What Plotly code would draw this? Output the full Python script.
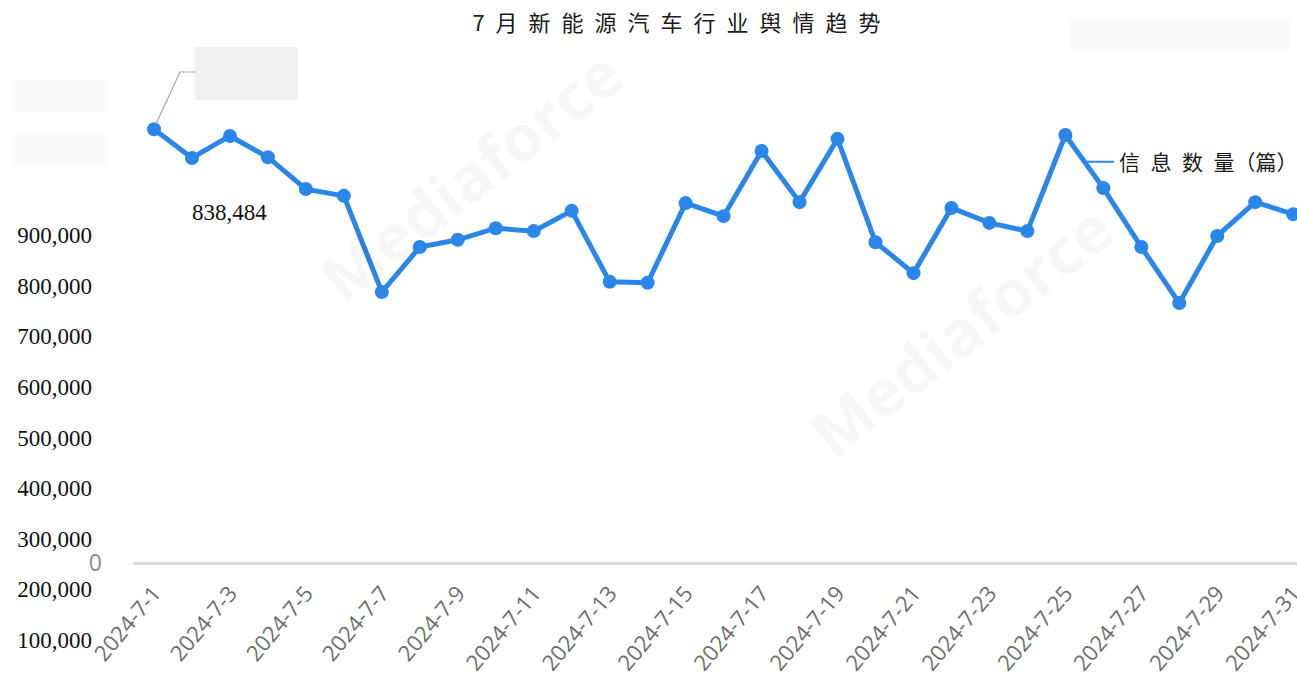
import plotly.graph_objects as go

# ---------------- data ----------------
dates = [f"2024-7-{d}" for d in range(1, 32)]
volumes = [898000, 838484, 884000, 840000, 774000, 760000, 561000, 654000,
           669000, 693000, 687000, 729000, 582000, 580000, 745000, 718000,
           853000, 747000, 878000, 664000, 600000, 735000, 704000, 687000,
           886000, 776000, 654000, 538000, 677000, 747000, 722000]
series_name = "信\u2002息\u2002数\u2002量（篇）"
title_text = "\u2002".join(list("7月新能源汽车行业舆情趋势"))
label_ticks = [100000, 200000, 300000, 400000, 500000, 600000, 700000, 800000, 900000]
data_label = "838,484"

W, H = 1297, 696
M_L, M_R, M_T, M_B = 133, 0, 60, 6
PH = H - M_T - M_B
PW = W - M_L - M_R

def px_y(py):  # screen pixel -> paper fraction
    return (H - M_B - py) / PH

def px_x(px):
    return (px - M_L) / PW

BLUE = "#2a86e8"

fig = go.Figure()
fig.add_trace(go.Scatter(
    x=dates, y=volumes, mode="lines+markers",
    line=dict(color=BLUE, width=5),
    marker=dict(color=BLUE, size=14),
    showlegend=False, name=series_name,
))
# legend entry (line only)
fig.add_trace(go.Scatter(
    x=[None], y=[None], mode="lines", yaxis="y2",
    line=dict(color=BLUE, width=2), name=series_name, showlegend=True,
))

fig.update_layout(
    width=W, height=H,
    margin=dict(l=M_L, r=M_R, t=M_T, b=M_B, autoexpand=False),
    paper_bgcolor="white", plot_bgcolor="white",
    title=dict(text=title_text, x=676.5 / W, xref="container", xanchor="center",
               y=1 - 23 / H, yref="container", yanchor="middle",
               font=dict(family="Noto Sans CJK SC", size=22, color="#1a1a1a")),
    legend=dict(x=1079 / W, xref="container", xanchor="left",
                y=1 - 162 / H, yref="container", yanchor="middle",
                bgcolor="rgba(0,0,0,0)", itemwidth=30,
                font=dict(family="Noto Sans CJK SC", size=21, color="#1a1a1a")),
    xaxis=dict(
        type="category", range=[-0.553, 30.10],
        tickmode="array", tickvals=dates[::2], ticktext=dates[::2],
        tickangle=-50, anchor="free", position=px_y(563),
        showline=False, showgrid=False, ticks="", ticklabelstandoff=12,
        tickfont=dict(family="Open Sans", size=22, color="#6e6e6e"),
    ),
    yaxis=dict(
        range=[(563 - 690) * 2070, (563 - 60) * 2070],
        tickmode="array", tickvals=[0], ticktext=["0"],
        showgrid=False, showline=False, ticks="",
        zeroline=True, zerolinecolor="#d9d9d9", zerolinewidth=2.5,
        ticklabelstandoff=30,
        tickfont=dict(family="Open Sans", size=23, color="#8c8c8c"),
    ),
    yaxis2=dict(
        overlaying="y", side="left", anchor="x",
        range=[100000 - (690 - 640) / 50.625 * 100000,
               900000 + (235 - 60) / 50.625 * 100000],
        tickmode="array", tickvals=label_ticks,
        ticktext=[f"{v:,}" for v in label_ticks],
        showgrid=False, showline=False, zeroline=False, ticks="",
        ticklabelstandoff=40,
        tickfont=dict(family="Liberation Serif", size=23, color="#111111"),
    ),
)

# value label
fig.add_annotation(x=dates[2], xref="x", y=px_y(212), yref="paper", text=data_label,
                   showarrow=False, xanchor="center", yanchor="middle",
                   font=dict(family="Liberation Serif", size=23, color="#111111"))

# callout box (redacted) and leader line
fig.add_shape(type="rect", xref="paper", yref="paper",
              x0=px_x(195), x1=px_x(298), y0=px_y(100), y1=px_y(47),
              fillcolor="#f1f1f1", line=dict(width=0), layer="above")
fig.add_shape(type="path", xref="paper", yref="paper",
              path=f"M {px_x(156)} {px_y(124)} L {px_x(180)} {px_y(72)} L {px_x(195)} {px_y(72)}",
              line=dict(color="#a6a6a6", width=1.2), layer="above")

# faint redaction blocks
for (x0, x1, y0, y1) in [(12, 108, 80, 112), (12, 108, 133, 165), (1070, 1290, 18, 50)]:
    fig.add_shape(type="rect", xref="paper", yref="paper",
                  x0=px_x(x0), x1=px_x(x1), y0=px_y(y1), y1=px_y(y0),
                  fillcolor="#fafafa", line=dict(width=0), layer="below")

# watermark
for (cx, cy) in [(470, 175), (960, 330)]:
    fig.add_annotation(xref="paper", yref="paper", x=px_x(cx), y=px_y(cy),
                       xanchor="center", yanchor="middle",
                       text="<b>Mediaforce</b>", showarrow=False, textangle=-38,
                       font=dict(family="Open Sans", size=64, color="rgba(0,0,0,0.03)"))

fig.write_html("out.html", config={"displayModeBar": False},
               post_script="document.body.style.margin='0px';")
